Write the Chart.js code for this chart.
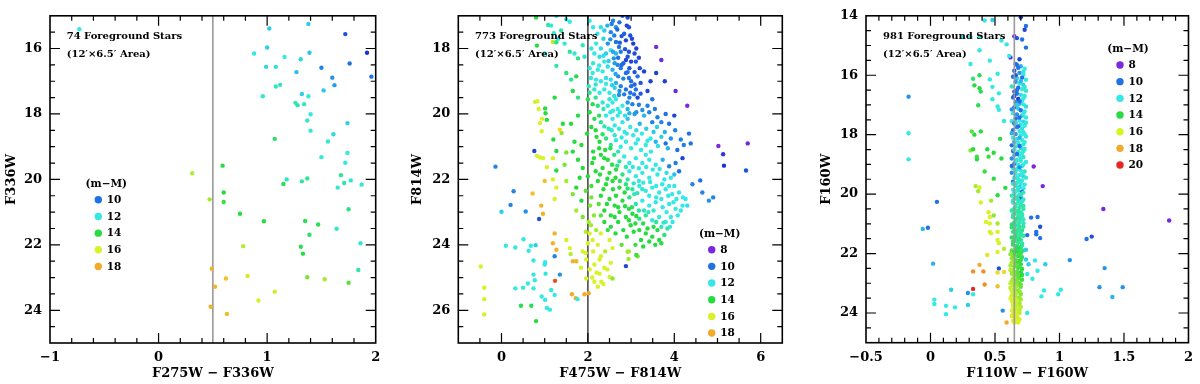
<!DOCTYPE html>
<html><head><meta charset="utf-8">
<script src="https://cdn.jsdelivr.net/npm/chart.js@4.4.1/dist/chart.umd.min.js"></script>
<style>
html,body{margin:0;padding:0;background:#fff;}
#wrap{position:relative;width:1200px;height:384px;overflow:hidden;}
.pane{position:absolute;top:0;width:400px;height:384px;}
canvas{display:block;}
</style></head><body>
<div id="wrap">
<div class="pane" style="left:0px"><canvas id="c1" width="400" height="384"></canvas></div>
<div class="pane" style="left:400px"><canvas id="c2" width="400" height="384"></canvas></div>
<div class="pane" style="left:800px"><canvas id="c3" width="400" height="384"></canvas></div>
</div>
<script>
// ---------------- DATA ----------------
// each star: [colour index, magnitude, distance modulus (m-M)]
const p1Stars = [[-0.73,15.41,12],[1.02,15.39,11.5],[1.38,15.25,11.5],[1.72,15.56,9.5],[1.92,16.13,9],[1.96,16.86,10],[0.88,16.15,12],[1.00,15.97,11.5],[1.39,16.13,11.3],[1.16,16.26,12],[1.31,16.33,11.7],[0.99,16.56,11.7],[1.08,16.56,11.8],[1.50,16.59,10.3],[1.76,16.46,10],[1.27,16.72,11.2],[1.60,16.89,10.5],[1.62,17.12,10.7],[1.08,17.16,12.5],[1.12,17.11,12.5],[1.52,17.28,11.3],[0.96,17.46,12.2],[1.32,17.39,11.5],[1.38,17.46,12],[1.26,17.66,12.5],[1.28,17.73,12.8],[1.34,17.70,12.3],[1.40,18.01,12],[1.37,18.20,12.3],[1.74,18.28,11.5],[1.40,18.51,12.2],[1.61,18.62,11.7],[1.07,18.76,13.5],[1.56,18.84,12.2],[1.74,19.19,12],[1.50,19.32,12],[1.72,19.49,12],[0.59,19.58,14],[0.31,19.81,15.5],[1.68,19.87,13],[1.18,20.00,12.5],[1.37,19.97,13],[1.15,20.14,13.7],[1.32,20.06,12.7],[1.71,20.11,12.7],[1.77,20.03,12.3],[1.87,20.16,12.2],[1.65,20.25,12.2],[0.47,20.61,15.3],[0.60,20.40,14],[0.60,20.69,14.2],[0.75,21.05,14],[0.97,21.28,14],[1.35,21.27,13.8],[1.75,20.91,13.3],[1.47,21.38,13.7],[1.39,21.69,13.5],[1.64,21.51,12.3],[0.78,22.04,15.5],[1.31,22.06,13.7],[1.33,22.27,14],[1.86,21.95,12.2],[0.49,22.73,17.8],[0.62,23.03,17.5],[0.82,22.95,16.5],[1.37,22.99,14.8],[1.53,23.05,15.3],[1.75,23.16,14.5],[1.84,22.77,12.7],[0.52,23.28,17.8],[1.07,23.43,15.8],[0.92,23.70,16],[0.48,23.89,17.8],[0.63,24.11,17.6]];

const p2Upper = [[2.04,17.15,12],[2.30,17.35,11.8],[2.38,17.45,11.5],[2.53,17.5,10.3],[2.65,17.35,10.5],[2.73,17.2,10],[2.80,17.0,10],[2.92,17.05,9.5],[2.90,17.3,9.3],[2.61,17.6,10.2],[2.65,17.8,10],[2.46,17.85,10.5],[2.30,18.0,11.8],[2.19,17.85,12],[2.15,18.15,12],[2.27,18.25,11.8],[2.42,18.15,11.5],[2.53,18.05,11.8],[2.65,18.15,11],[2.76,18.1,10.2],[2.88,18.35,9.3],[3.0,18.4,9.3],[3.11,18.4,9.6],[2.88,17.75,9.3],[3.05,17.85,9.2],[3.12,18.0,9.2],[3.58,17.95,8],[3.70,18.35,8.2],[3.30,18.7,9.2],[3.58,18.75,9.2],[3.15,18.85,10],[3.0,19.0,10],[2.88,18.75,10],[2.76,18.6,10.2],[2.69,18.5,10.3],[2.57,18.65,11],[2.46,18.55,11.8],[2.34,18.7,12],[2.23,18.65,12],[2.11,18.75,12],[2.04,18.6,12.2],[2.07,18.9,12.2],[2.19,18.95,12],[2.30,19.0,12],[2.42,18.9,11.8],[2.53,18.95,11.8],[2.65,19.05,11],[2.76,19.15,10.3],[2.88,19.25,10],[3.0,19.15,10],[3.11,19.25,10],[3.07,19.4,10],[2.96,19.5,10.2],[2.84,19.4,10.2],[2.73,19.3,10.5],[2.61,19.45,11.8],[2.50,19.35,12],[2.38,19.25,12],[2.27,19.35,12],[2.15,19.25,12.2],[2.04,19.35,13],[2.00,19.55,13.8],[2.11,19.7,13.8],[2.23,19.75,13.2],[2.34,19.65,12.3],[2.46,19.75,12],[2.57,19.65,12],[2.69,19.85,12],[2.80,19.75,12],[2.92,19.85,11],[3.03,19.7,10.2],[3.15,19.5,9.3],[3.38,19.3,9.3],[3.45,19.0,9.2],[3.78,19.0,9.2],[4.03,19.3,8.2],[4.30,19.75,8],[3.49,19.55,10],[3.38,19.75,10.2],[3.30,20.05,11],[3.49,20.25,10.3],[3.61,20.1,10.2],[3.80,20.0,10],[4.0,20.05,9.3],[4.34,20.6,10],[2.42,20.05,12],[2.57,20.15,12],[2.69,20.05,12],[2.80,20.25,12],[2.92,20.15,11.2],[2.30,20.25,13],[2.15,20.15,13.8],[2.04,19.95,14],[1.77,19.5,13.2],[1.65,19.3,14],[1.73,18.85,14],[1.61,18.95,13],[1.50,18.75,13.2],[1.77,18.3,13.2],[1.69,18.15,12.2],[1.58,18.1,13],[1.46,17.85,12.2],[1.31,17.7,12],[1.38,17.45,12.8],[1.15,17.3,12],[1.19,17.8,15.5],[1.00,18.15,12],[1.23,19.5,14],[1.42,20.3,14],[1.61,20.3,14],[1.77,20.05,14],[0.86,19.85,16],[0.94,20.15,16],[2.58,17.15,10.3],[2.45,17.3,11],[2.84,17.55,9.8],[2.98,17.6,9.5],[2.36,17.7,11.6],[2.72,17.95,10],[2.95,18.1,9.5],[2.60,18.3,10.5],[2.82,18.45,9.8],[2.38,18.4,12],[2.12,18.45,12.2],[2.96,18.6,9.6],[3.20,18.6,9.4],[2.70,18.85,10.4],[2.95,18.9,10],[3.22,19.05,9.6],[2.62,19.2,11.5],[2.92,19.65,10.6],[2.65,19.55,12],[2.50,19.55,12.2],[2.36,19.85,12.5],[2.58,19.9,12],[2.18,19.5,13],[3.12,19.95,10.5],[3.20,20.3,11],[2.98,20.4,12],[2.62,20.35,12],[2.48,20.45,12.5],[1.88,17.9,12.5],[1.92,18.25,12.3],[2.08,18.0,12]];

const p2Lower = [[2.27,20.85,14],[2.42,20.75,13.2],[2.53,20.95,12.8],[2.65,20.8,12],[2.76,21.0,12],[2.88,20.85,12],[3.0,21.05,12],[3.11,20.9,12],[3.23,21.1,12],[3.34,20.95,12],[3.46,21.15,12],[3.57,20.85,11],[3.80,20.9,10],[4.07,21.1,10],[4.19,21.35,9.3],[4.38,20.9,10],[2.30,21.25,14],[2.46,21.4,14],[2.61,21.25,13.2],[2.73,21.45,12.8],[2.84,21.3,12],[2.96,21.5,12],[3.11,21.35,12],[3.26,21.5,12],[3.42,21.4,12],[3.57,21.55,12],[3.73,21.4,11],[3.88,21.6,10.3],[4.03,21.5,10.2],[4.11,21.75,10],[2.34,21.65,14],[2.50,21.8,14],[2.65,21.7,14],[2.80,21.85,13.2],[2.96,21.75,12],[3.11,21.9,12],[3.26,21.8,12],[3.42,21.95,12],[3.61,21.85,12],[3.77,22.0,12],[3.92,21.95,12],[2.23,22.05,14],[2.42,22.15,14],[2.57,22.05,14],[2.73,22.25,14],[2.88,22.15,13.2],[3.03,22.3,12.8],[3.19,22.2,12],[3.34,22.35,12],[3.49,22.25,12],[3.65,22.4,12],[3.80,22.3,12],[3.95,22.45,12],[4.11,22.4,12],[4.26,22.6,12],[4.42,22.15,10.3],[4.65,22.4,10.3],[4.80,22.65,10.5],[2.30,22.5,14],[2.50,22.6,14],[2.65,22.5,14],[2.80,22.65,14],[2.96,22.55,13.2],[3.11,22.75,12.8],[3.26,22.65,12],[3.42,22.8,12],[3.57,22.7,12],[3.73,22.85,12],[3.88,22.75,12],[4.03,22.9,12],[4.19,22.8,12],[2.38,22.95,14],[2.53,23.1,14],[2.73,23.0,14],[2.88,23.15,14],[3.03,23.05,14],[3.19,23.2,13.2],[3.34,23.1,12.8],[3.49,23.25,12],[3.65,23.15,12],[3.80,23.3,12],[3.92,23.15,12],[2.99,23.4,14],[3.19,23.55,14],[3.34,23.65,14],[3.49,23.75,14],[3.65,23.85,14],[3.77,23.7,13.3],[3.84,23.5,12.8],[3.61,23.55,14],[3.42,23.9,14],[3.23,23.85,14],[2.53,23.45,14],[2.38,23.3,14],[2.30,23.65,16],[2.19,23.55,15.3],[2.07,23.4,15.3],[2.04,23.65,16],[2.11,23.85,16],[2.23,24.0,16],[2.57,24.1,16],[2.50,23.85,16],[2.95,24.2,15.3],[3.15,24.35,14.8],[2.88,24.65,9.3],[1.88,23.15,14.8],[1.73,22.95,15.3],[1.85,22.65,14],[1.65,22.45,14.8],[1.73,22.25,14],[1.81,21.95,14],[1.88,21.65,14],[1.77,21.4,14],[1.65,21.15,14],[1.85,20.95,14],[1.69,20.85,14],[1.46,21.55,14.8],[1.50,22.05,15.3],[1.27,22.25,16],[1.23,22.6,16],[1.19,21.35,16],[0.96,21.35,16],[1.19,22.0,16],[1.00,22.05,17.5],[0.92,22.8,17.8],[0.96,23.05,17.8],[1.23,23.65,17.8],[1.19,23.95,17.8],[1.27,24.15,17.8],[1.50,23.85,16],[1.58,24.1,16],[1.65,24.5,17.8],[1.73,24.5,17.8],[1.88,24.2,16],[1.96,24.45,16],[2.04,24.75,16],[2.15,24.6,16],[2.27,24.45,16],[2.38,24.7,16],[2.53,24.55,16],[1.23,24.35,10.3],[1.00,24.6,12],[2.52,21.05,13.8],[2.40,21.1,14],[2.70,21.15,12.5],[3.34,21.25,12],[3.50,21.7,12],[3.18,22.05,12],[2.64,21.95,14],[3.07,22.45,12.5],[2.85,22.4,14],[3.58,22.55,12],[3.86,22.5,12],[4.00,22.2,12],[4.15,22.95,12],[3.30,22.95,12.5],[2.62,22.8,14],[2.95,22.9,14],[3.70,23.45,12.5],[3.10,23.35,14],[2.70,23.3,14],[2.82,23.55,14],[2.14,23.1,15],[2.05,22.8,14.8],[1.95,22.35,14.5],[2.00,21.9,14],[2.10,21.5,14],[2.12,21.15,14],[1.98,20.6,14],[2.18,20.5,14],[3.70,20.7,11.5],[3.92,20.75,10.5],[4.15,20.78,10.2],[3.45,20.75,12],[3.25,20.6,12],[3.05,20.65,12],[2.85,20.55,12],[3.60,20.4,11.5]];

const p2Core = [[2.55,17.25,10.2],[2.68,17.42,9.8],[2.78,17.62,9.6],[2.95,17.35,9.4],[3.02,17.7,9.3],[2.52,17.72,10.5],[2.74,17.82,9.8],[2.86,18.02,9.6],[3.08,18.15,9.4],[2.58,18.1,10.8],[2.70,18.28,10],[2.92,18.25,9.5],[3.18,18.28,9.3],[2.48,18.38,11.5],[2.62,18.45,10.6],[2.78,18.5,9.9],[2.92,18.72,10],[3.08,18.72,9.5],[2.64,18.78,10.8],[2.82,18.92,10.2],[3.08,19.1,9.8],[2.72,19.42,10.5],[2.98,19.35,10],[3.22,19.38,9.6],[2.56,19.12,11.5],[2.42,19.08,12],[2.18,19.1,12.3],[2.02,19.15,12.5],[2.26,18.52,12],[2.36,18.22,11.8],[2.22,17.55,12],[2.12,17.35,12],[2.52,19.95,12],[2.74,19.95,12],[2.86,20.05,11.8],[2.96,19.98,11],[3.08,20.0,10.6],[3.18,19.72,10.2],[3.26,19.88,10.5],[3.42,19.95,10.3],[3.55,19.85,10.2],[3.70,20.25,10.3],[3.88,20.3,10],[2.38,20.38,12.6],[2.55,20.5,12.2],[2.72,20.45,12],[2.90,20.6,12],[3.12,20.5,11.8],[3.35,20.45,11.5],[3.52,20.55,11.4],[3.78,20.55,11],[4.02,20.5,10.3],[2.34,20.62,13.5],[2.62,20.65,12.3],[2.78,20.72,12],[3.16,20.78,12],[3.38,20.82,12],[3.62,20.98,11.8],[3.85,21.05,11],[4.22,20.95,10.2],[2.20,20.7,14],[2.08,20.4,14],[2.26,20.05,13.6],[2.26,21.05,14],[2.38,21.35,14],[2.56,21.55,13.8],[2.68,21.58,13.2],[2.88,21.62,12.6],[3.04,21.62,12.2],[3.18,21.66,12],[3.35,21.62,12],[3.66,21.68,12],[3.82,21.8,11.8],[4.00,21.85,11.2],[2.28,21.85,14],[2.45,21.98,14],[2.74,22.05,13.6],[2.92,22.0,12.8],[3.06,22.12,12.4],[3.28,22.1,12],[3.44,22.08,12],[3.58,22.2,12],[3.72,22.15,12],[3.88,22.2,12],[4.05,22.6,12],[2.36,22.3,14],[2.58,22.3,14],[2.92,22.28,13.5],[3.14,22.42,12.6],[3.26,22.3,12.2],[3.42,22.5,12],[3.70,22.6,12],[3.98,22.7,12],[4.20,22.55,12],[4.30,22.8,11.8],[2.14,21.35,14],[2.18,21.75,14],[2.08,22.2,14.3],[2.44,22.75,14],[2.70,22.85,14],[2.86,22.82,14],[3.02,22.85,13.6],[3.18,22.95,13],[3.40,23.0,12.5],[3.52,22.95,12.2],[3.82,23.0,12],[3.96,23.3,12],[4.08,23.1,12],[2.30,23.1,14.5],[2.62,23.15,14],[2.95,23.25,14],[3.12,23.12,14],[3.28,23.35,13.8],[3.58,23.3,13],[3.75,23.32,12.4],[3.90,23.45,12.2],[2.46,23.55,14.2],[2.64,23.65,14],[2.90,23.75,14],[3.06,23.6,14],[3.38,23.5,14],[3.52,23.45,13.8],[3.70,23.95,14],[3.56,24.0,14],[3.28,24.05,14],[3.10,24.0,14.2],[2.78,24.0,14.5],[2.40,24.2,15.5],[2.30,24.35,16],[2.12,24.2,16],[2.00,23.95,16],[1.95,24.25,16],[1.84,24.7,16],[2.20,24.85,16],[2.45,24.75,16],[2.10,25.0,16],[2.36,25.2,16],[2.02,23.3,15.3],[1.95,23.6,15.5],[2.08,22.55,14.8],[2.25,22.75,14.5]];

const p2Outer = [[0.80,17.05,13.8],[1.27,17.0,12.2],[1.08,17.28,12.8],[1.21,17.53,12.2],[1.27,17.81,13.3],[0.82,17.91,14],[1.50,17.11,12],[1.58,17.18,12],[1.27,18.53,12.8],[0.78,19.63,15.8],[0.83,19.61,16],[1.01,19.83,14],[1.02,19.98,14],[0.89,20.28,16],[0.93,20.53,16],[1.05,20.18,14],[1.39,20.58,15],[1.35,20.48,17],[1.20,20.78,14],[0.76,21.13,9.3],[0.82,21.28,16],[0.89,21.33,16],[1.05,21.63,16],[-0.14,21.61,10.3],[1.27,21.13,14],[1.50,21.18,14.8],[1.27,21.73,14],[5.02,20.98,8],[5.70,20.90,7.8],[5.13,21.23,8.7],[5.15,21.58,9],[5.66,21.73,9.5],[4.60,22.03,10],[4.90,22.55,10.3],[0.28,22.36,10.3],[0.72,22.43,17.5],[0.21,22.78,10.3],[0.0,22.99,11.5],[0.56,22.98,10.5],[0.87,23.21,9.5],[0.10,24.03,12],[0.32,24.08,12],[0.51,23.83,12],[0.68,24.03,12],[0.79,24.01,11.5],[0.63,24.18,12],[-0.48,24.66,16],[0.74,24.48,12],[1.01,24.53,12],[1.35,24.91,10.5],[0.74,24.91,12],[0.77,25.08,12],[1.02,24.88,12.2],[-0.40,25.31,16],[-0.40,25.66,16],[-0.40,26.13,16],[0.32,25.33,12],[0.50,25.31,12],[0.61,25.18,12],[0.74,25.33,12],[0.93,25.58,12],[1.01,25.68,12],[1.05,25.93,12],[1.12,25.98,12],[1.15,25.38,12],[1.23,25.53,12],[1.24,25.10,19.5],[0.45,25.86,13.8],[0.69,25.86,13.8],[0.80,26.33,14],[1.63,25.51,18],[1.72,25.63,18],[1.76,25.66,12],[1.92,25.51,18],[2.02,25.48,18],[2.15,25.13,16],[2.23,25.28,16],[2.31,25.13,16],[1.96,25.03,16],[2.50,24.98,16],[2.27,24.88,16],[2.57,25.03,15],[2.92,24.21,15.2],[2.94,24.43,15.2],[3.12,24.31,14.2],[1.60,24.28,15.5]];

const p3Top = [[0.70,14.05,9.3],[0.74,14.34,10],[0.73,14.47,9.3],[0.65,14.69,8],[0.67,14.75,9.5],[0.71,14.80,10],[0.74,15.07,10],[0.69,15.46,9.3],[0.62,15.40,8.2],[0.67,15.65,10]];

const p3Band = [[0.66,15.62,10],[0.70,15.70,11],[0.73,15.78,12],[0.65,15.85,9.5],[0.69,15.92,10.5],[0.72,15.98,12],[0.64,16.05,10],[0.67,16.10,11.5],[0.71,16.08,10],[0.74,16.15,12],[0.66,16.22,10.5],[0.69,16.28,12],[0.72,16.33,11.5],[0.63,16.38,12.5],[0.68,16.42,10],[0.71,16.47,12],[0.74,16.52,12.2],[0.65,16.55,9.5],[0.67,16.62,10],[0.70,16.66,11.8],[0.73,16.70,12],[0.64,16.75,10],[0.68,16.80,9],[0.71,16.85,12],[0.66,16.90,10.5],[0.69,16.95,11],[0.72,16.98,12],[0.74,17.05,11.8],[0.65,17.08,10],[0.68,17.12,11.5],[0.70,17.18,10],[0.73,17.22,12],[0.64,17.28,12],[0.67,17.32,10.5],[0.71,17.36,11.5],[0.74,17.42,12],[0.66,17.46,10],[0.69,17.52,12],[0.72,17.56,11.7],[0.63,17.55,12],[0.65,17.62,9.5],[0.70,17.66,12],[0.73,17.70,12],[0.67,17.75,10.5],[0.71,17.80,11.8],[0.64,17.85,10],[0.69,17.88,12],[0.72,17.92,12.2],[0.66,17.98,10.5],[0.70,18.02,12],[0.74,18.06,12],[0.64,18.10,12],[0.67,18.15,11.5],[0.71,18.18,12],[0.65,18.24,10.5],[0.68,18.28,12],[0.72,18.32,12.3],[0.63,18.36,10],[0.66,18.40,12],[0.70,18.45,11.5],[0.73,18.48,12],[0.64,18.55,10],[0.68,18.58,12.2],[0.71,18.62,12],[0.65,18.68,11],[0.69,18.72,12],[0.72,18.75,12.5],[0.63,18.80,10.5],[0.67,18.85,12],[0.70,18.88,12.2],[0.74,18.92,12],[0.65,18.98,10],[0.68,19.02,12],[0.71,19.05,11.8],[0.64,19.12,12.3],[0.67,19.16,12],[0.70,19.20,12],[0.73,19.24,12.5],[0.63,19.28,10.5],[0.66,19.32,12],[0.69,19.36,12.2],[0.72,19.40,11.7],[0.65,19.45,12.5],[0.68,19.50,12],[0.71,19.54,12],[0.64,19.58,10],[0.67,19.62,12.3],[0.70,19.66,12],[0.66,19.72,12.5],[0.69,19.76,11.5],[0.72,19.80,12],[0.64,19.85,12],[0.68,19.88,12.5],[0.71,19.92,10],[0.65,19.96,12.3],[0.69,20.02,12],[0.63,20.05,12.5],[0.67,20.08,12],[0.70,20.12,10],[0.65,20.16,12.5],[0.68,20.20,12.8],[0.71,20.24,12.3],[0.64,20.28,12],[0.67,20.32,12.5],[0.70,20.36,13],[0.66,20.42,12.3],[0.69,20.46,12.8],[0.72,20.50,12.5],[0.63,20.55,12.8],[0.67,20.58,12.5],[0.70,20.62,13],[0.65,20.66,13.2],[0.68,20.70,12.6],[0.71,20.74,12.4],[0.64,20.78,12.8],[0.67,20.82,13.3],[0.70,20.86,12.7],[0.66,20.90,13],[0.69,20.94,12.6],[0.72,20.98,12.5],[0.63,21.02,13.5],[0.66,21.06,12.8],[0.69,21.10,13.2],[0.65,21.15,13],[0.68,21.18,12.7],[0.71,21.22,13.4],[0.64,21.27,13.2],[0.67,21.30,12.6],[0.70,21.34,13],[0.66,21.38,13.5],[0.69,21.42,12.8],[0.63,21.46,13.6],[0.67,21.50,13.2],[0.70,21.54,12.7],[0.65,21.58,13.4],[0.68,21.62,13],[0.71,21.66,12.8],[0.64,21.70,13.8],[0.67,21.74,13.3],[0.70,21.78,13.5],[0.66,21.83,13.8],[0.69,21.86,13.2],[0.63,21.90,14.5],[0.67,21.94,14],[0.70,21.98,13.6],[0.62,22.02,15],[0.65,22.05,14.3],[0.68,22.08,14],[0.71,22.12,13.6],[0.63,22.16,15.2],[0.66,22.20,14.5],[0.69,22.24,14],[0.64,22.28,15],[0.67,22.32,14.2],[0.70,22.36,13.8],[0.62,22.40,15.3],[0.65,22.44,14.6],[0.68,22.48,14.2],[0.71,22.52,14],[0.64,22.56,15],[0.67,22.60,14.4],[0.70,22.64,14],[0.63,22.68,15.2],[0.66,22.72,14.7],[0.69,22.76,14.3],[0.65,22.80,15],[0.68,22.84,14.5],[0.71,22.88,14.2],[0.63,22.92,15.4],[0.66,22.96,14.8],[0.69,23.00,14.5],[0.64,23.05,15.5],[0.67,23.08,15],[0.70,23.12,14.6],[0.62,23.16,15.6],[0.65,23.20,15.2],[0.68,23.24,14.8],[0.64,23.28,15.7],[0.67,23.32,15.3],[0.70,23.36,14.8],[0.63,23.40,15.8],[0.66,23.44,15.4],[0.69,23.48,15],[0.65,23.52,15.8],[0.68,23.56,15.4],[0.63,23.60,16],[0.66,23.64,15.6],[0.69,23.68,15.2],[0.64,23.72,16],[0.67,23.76,15.7],[0.70,23.80,15.5],[0.65,23.84,16],[0.68,23.88,15.8],[0.63,23.92,16.2],[0.66,23.96,15.9],[0.69,24.00,15.6],[0.64,24.04,16.2],[0.67,24.08,16],[0.65,24.14,16.2],[0.68,24.18,15.9],[0.66,24.22,16.3],[0.64,24.26,16],[0.67,24.30,16.2]];

const p3Band2 = [[0.68,15.75,10],[0.72,15.88,12],[0.66,16.0,9.5],[0.70,16.2,11],[0.73,16.4,12.3],[0.67,16.5,10],[0.65,16.7,9.5],[0.72,16.78,12],[0.69,16.88,10],[0.67,17.0,11.5],[0.63,17.15,10.5],[0.72,17.3,12],[0.69,17.42,10],[0.66,17.6,11.5],[0.74,17.6,12.2],[0.68,17.72,10],[0.63,17.95,11],[0.73,17.98,12],[0.69,18.1,11],[0.66,18.2,12],[0.73,18.25,12],[0.69,18.38,10],[0.65,18.5,12],[0.72,18.55,12.3],[0.67,18.65,10],[0.70,18.78,12],[0.66,18.9,12.2],[0.72,19.0,12],[0.63,19.05,10],[0.69,19.1,10.5],[0.66,19.22,12.3],[0.71,19.3,12],[0.74,19.45,12.2],[0.67,19.45,12],[0.64,19.65,12.4],[0.70,19.55,12.3],[0.73,19.68,12],[0.68,19.8,12.2],[0.66,19.9,12],[0.72,19.95,12.4],[0.70,20.02,12.6],[0.66,20.12,12.8],[0.72,20.18,12.2],[0.64,20.22,12.6],[0.69,20.3,12.4],[0.72,20.4,12.8],[0.65,20.48,12.8],[0.68,20.56,13],[0.71,20.68,12.6],[0.64,20.7,13],[0.69,20.8,12.8],[0.72,20.85,12.4],[0.65,20.95,13.2],[0.68,21.02,12.8],[0.72,21.1,12.7],[0.63,21.12,13.4],[0.70,21.25,13],[0.66,21.25,13.3],[0.72,21.4,12.8],[0.65,21.45,13.5],[0.69,21.52,13.2],[0.64,21.6,13.6],[0.71,21.72,13],[0.68,21.8,13.8],[0.65,21.95,14],[0.72,21.9,13.4],[0.69,22.02,14.3],[0.64,22.12,14.8],[0.70,22.22,14.2],[0.63,22.3,15.3],[0.66,22.38,14.6],[0.69,22.44,14.3],[0.62,22.55,15.5],[0.65,22.62,15],[0.68,22.7,14.5],[0.71,22.72,14],[0.64,22.85,15.3],[0.67,22.9,14.8],[0.62,23.0,15.6],[0.70,23.05,14.6],[0.66,23.12,15.3],[0.63,23.25,15.8],[0.69,23.28,15],[0.66,23.36,15.6],[0.62,23.5,16],[0.70,23.55,15.3],[0.67,23.6,15.8],[0.64,23.8,16],[0.69,23.9,15.6],[0.66,24.05,16.2],[0.63,24.1,16.3],[0.69,24.22,16],[0.67,24.25,16.2],[0.65,24.32,16.4],[0.68,24.32,16]];

const p3Field = [[0.42,14.16,12],[0.48,14.14,11.5],[0.25,14.71,12],[0.31,14.71,12],[0.38,14.71,12.2],[0.55,14.83,12],[0.59,14.96,12],[0.38,15.16,12],[0.46,15.51,12],[0.31,15.62,12],[0.61,15.35,12],[0.52,15.95,12],[0.38,16.0,13.8],[0.46,16.14,12],[0.33,16.12,13.3],[0.34,16.34,14],[0.38,16.44,14],[0.39,16.55,13.8],[0.48,16.39,12],[0.53,16.61,12],[0.48,16.81,12],[0.37,17.01,13.8],[0.52,17.05,12],[0.53,17.16,12],[0.57,17.54,12],[-0.17,16.72,10.5],[-0.17,17.95,12],[-0.17,18.83,12],[0.32,17.89,14.5],[0.34,18.0,14],[0.39,17.89,14],[0.31,18.53,15],[0.33,18.49,14],[0.36,18.74,14.3],[0.36,18.83,14],[0.44,18.49,14],[0.45,18.74,14.2],[0.49,18.61,14],[0.55,18.80,14],[0.54,18.14,14],[0.49,19.48,14],[0.42,19.24,14.2],[0.35,19.73,15.3],[0.38,19.78,16],[0.37,19.90,15.3],[0.52,20.04,14],[0.58,19.79,14],[0.39,20.28,16],[0.47,20.22,15.3],[0.45,20.61,16],[0.46,20.77,16],[0.43,20.94,16],[0.46,20.99,16],[0.49,20.72,15],[0.52,20.99,15.3],[0.46,21.27,16],[0.47,21.32,16],[0.52,21.27,16],[0.52,21.54,16],[0.53,21.65,16],[0.52,21.95,16],[0.44,22.05,16.5],[0.57,21.84,15.5],[0.05,20.26,10],[-0.02,21.13,10],[-0.06,21.17,11],[0.02,22.34,11],[0.38,22.38,18],[0.33,22.60,18.5],[0.41,22.60,18.5],[0.42,23.04,18.5],[0.33,23.19,20],[0.53,22.50,9.5],[0.52,22.64,17],[0.57,22.62,17],[0.52,23.10,17.5],[0.59,24.32,18],[0.16,23.22,11.5],[0.29,23.33,10.5],[0.33,23.37,12],[0.03,23.55,12],[0.03,23.70,12],[0.12,23.76,12],[0.19,23.81,12],[0.12,24.04,12],[0.29,23.73,11.5],[0.56,23.92,10.5],[0.80,19.07,8],[0.87,19.73,8],[0.83,20.77,10],[0.78,20.79,10],[0.85,21.10,9.5],[0.82,21.27,10],[0.82,21.35,10],[0.85,21.48,10],[0.75,21.38,10],[0.74,21.87,11.5],[0.74,22.20,11.5],[0.81,22.23,12],[0.76,22.36,11.5],[0.89,22.36,11.5],[0.83,22.58,12],[0.79,22.85,12],[0.75,22.69,12],[0.88,23.24,12],[0.86,23.44,12],[0.75,24.0,12],[1.08,22.22,10.5],[1.01,23.22,12],[0.99,23.37,12],[1.21,21.51,10],[1.25,21.43,9.5],[1.34,20.50,8],[1.35,22.49,10.5],[1.31,23.13,10.5],[1.41,23.46,11],[1.49,23.13,10.5],[1.85,20.89,8]];

// tick labels
const p1XTicks = [-1, 0, 1, 2];
const p1YTicks = [16, 18, 20, 22, 24];
const p2XTicks = [0, 2, 4, 6];
const p2YTicks = [18, 20, 22, 24, 26];
const p3XTicks = [-0.5, 0, 0.5, 1, 1.5, 2];
const p3YTicks = [14, 16, 18, 20, 22, 24];
// legend entries (m-M)
const p1Legend = [10, 12, 14, 16, 18];
const p2Legend = [8, 10, 12, 14, 16, 18];
const p3Legend = [8, 10, 12, 14, 16, 18, 20];
// captions
const p1Caption = ['74 Foreground Stars', '(12′×6.5′ Area)'];
const p2Caption = ['773 Foreground Stars', '(12′×6.5′ Area)'];
const p3Caption = ['981 Foreground Stars', '(12′×6.5′ Area)'];
// reference colour lines
const p1RefX = 0.5, p2RefX = 2, p3RefX = 0.65;

// ---------------- STYLE ----------------
const CMAP = [[7,[90,26,200]],[8,[122,40,224]],[9,[30,52,208]],[10,[32,112,230]],[11,[40,180,234]],[12,[52,232,228]],[13,[46,228,150]],[14,[40,220,64]],[15,[142,232,48]],[16,[216,242,40]],[17,[242,216,40]],[18,[242,170,40]],[19,[240,112,32]],[20,[232,40,32]]];
function dmColor(d){
  if (d <= CMAP[0][0]) return 'rgb('+CMAP[0][1].join(',')+')';
  for (let i=0;i<CMAP.length-1;i++){
    const [a,ca]=CMAP[i],[b,cb]=CMAP[i+1];
    if (d<=b){const t=(d-a)/(b-a);return 'rgb('+ca.map((v,k)=>Math.round(v+(cb[k]-v)*t)).join(',')+')';}
  }
  return 'rgb('+CMAP[CMAP.length-1][1].join(',')+')';
}
const FAM = '"DejaVu Serif", "Liberation Serif", serif';
function fmt(v){ return v<0 ? '\u2212'+Math.abs(v) : String(v); }

function makePanel(id, c){
  const stars = c.stars.map(p=>({x:p[0],y:p[1],dm:p[2]}));
  const deco = {
    id:'deco'+id,
    beforeDatasetsDraw(chart){
      const {ctx, chartArea:a, scales:{x}} = chart;
      if (!c.refOnTop) drawRef(ctx,a,x);
    },
    afterDatasetsDraw(chart){
      const {ctx, chartArea:a, scales:{x,y}} = chart;
      if (c.refOnTop) drawRef(ctx,a,x);
      ctx.save();
      ctx.strokeStyle='#000'; ctx.lineWidth=1.6;
      ctx.strokeRect(a.left, a.top, a.right-a.left, a.bottom-a.top);
      ctx.lineWidth=1.2;
      ctx.beginPath();
      for (let i=0;;i++){
        const v = +(c.xMin + i*c.xMinor).toFixed(4);
        if (v > c.xMax+1e-9) break;
        const p = x.getPixelForValue(v);
        if (p<=a.left+1 || p>=a.right-1) continue;
        const L = c.xTicks.some(t=>Math.abs(t-v)<1e-6) ? 10 : 5;
        ctx.moveTo(p,a.bottom); ctx.lineTo(p,a.bottom-L);
        ctx.moveTo(p,a.top); ctx.lineTo(p,a.top+L);
      }
      for (let i=0;;i++){
        const v = +(c.yMin + i*c.yMinor).toFixed(4);
        if (v > c.yMax+1e-9) break;
        const p = y.getPixelForValue(v);
        if (p<=a.top+1 || p>=a.bottom-1) continue;
        const L = c.yTicks.some(t=>Math.abs(t-v)<1e-6) ? 10 : 5;
        ctx.moveTo(a.left,p); ctx.lineTo(a.left+L,p);
        ctx.moveTo(a.right,p); ctx.lineTo(a.right-L,p);
      }
      ctx.stroke();
      ctx.fillStyle='#000';
      ctx.font='bold 10px '+FAM;
      ctx.textAlign='left'; ctx.textBaseline='middle';
      ctx.fillText(c.caption[0], a.left+c.capX, a.top+20.7);
      ctx.fillText(c.caption[1], a.left+c.capX, a.top+38.7);
      ctx.font='bold 10.5px '+FAM;
      ctx.textAlign='center';
      ctx.fillText('(m\u2212M)', a.left+c.legX+8, a.top+c.legY);
      ctx.textAlign='left';
      c.legend.forEach((d,i)=>{
        const yy = a.top+c.legY+15.5+i*16.67;
        ctx.beginPath(); ctx.fillStyle=dmColor(d);
        ctx.arc(a.left+c.legX, yy, 3.7, 0, Math.PI*2); ctx.fill();
        ctx.fillStyle='#000';
        ctx.fillText(String(d), a.left+c.legX+8.5, yy+0.5);
      });
      ctx.restore();
    }
  };
  function drawRef(ctx,a,x){
    const px = x.getPixelForValue(c.refX);
    ctx.save(); ctx.strokeStyle=c.refColor; ctx.lineWidth=c.refW;
    ctx.beginPath(); ctx.moveTo(px,a.top); ctx.lineTo(px,a.bottom); ctx.stroke(); ctx.restore();
  }
  const tickFont = {family:FAM, size:13, weight:'bold'};
  new Chart(document.getElementById(id), {
    type:'scatter',
    data:{datasets:[{data:stars, pointRadius:2.2, pointHoverRadius:2.2, pointBorderWidth:0,
      pointBackgroundColor: stars.map(s=>dmColor(s.dm))}]},
    options:{
      responsive:false, animation:false, events:[], devicePixelRatio:1,
      layout:{padding:{top:c.padTop, right:c.padRight, left:0, bottom:0}},
      plugins:{legend:{display:false}, tooltip:{enabled:false}},
      scales:{
        x:{type:'linear', min:c.xMin, max:c.xMax,
          afterBuildTicks:s=>{s.ticks=c.xTicks.map(v=>({value:v}));},
          afterFit:s=>{s.height=c.xAxisH;},
          grid:{display:false, drawTicks:false}, border:{display:false},
          ticks:{padding:7, font:tickFont, color:'#000', autoSkip:false, maxRotation:0, callback:v=>fmt(v)},
          title:{display:true, text:c.xTitle, font:tickFont, color:'#000', padding:{top:0,bottom:3}}},
        y:{type:'linear', reverse:true, min:c.yMin, max:c.yMax,
          afterBuildTicks:s=>{s.ticks=c.yTicks.map(v=>({value:v}));},
          afterFit:s=>{s.width=c.yAxisW;},
          grid:{display:false, drawTicks:false}, border:{display:false},
          ticks:{padding:8, font:tickFont, color:'#000', autoSkip:false, callback:v=>fmt(v)},
          title:{display:true, text:c.yTitle, font:tickFont, color:'#000', padding:{top:c.yTitlePad,bottom:0}}}
      }
    },
    plugins:[deco]
  });
}

makePanel('c1', {stars:p1Stars, xMin:-1, xMax:2, yMin:15, yMax:25, xTicks:p1XTicks, yTicks:p1YTicks,
  xMinor:0.2, yMinor:0.5, xTitle:'F275W \u2212 F336W', yTitle:'F336W', padTop:8.3, padRight:24.3,
  yAxisW:50, xAxisH:41, yTitlePad:4, refX:p1RefX, refColor:'#9a9a9a', refW:1.6, refOnTop:false,
  caption:p1Caption, capX:16.7, legend:p1Legend, legX:48.3, legY:168.5});
makePanel('c2', {stars:p2Upper.concat(p2Lower, p2Core, p2Outer), xMin:-1, xMax:6.5, yMin:17, yMax:27, xTicks:p2XTicks, yTicks:p2YTicks,
  xMinor:0.5, yMinor:0.5, xTitle:'F475W \u2212 F814W', yTitle:'F814W', padTop:8.3, padRight:17.7,
  yAxisW:58.3, xAxisH:41, yTitlePad:10, refX:p2RefX, refColor:'#222', refW:1.3, refOnTop:false,
  caption:p2Caption, capX:16.7, legend:p2Legend, legX:253.4, legY:218.4});
makePanel('c3', {stars:p3Top.concat(p3Band, p3Band2, p3Field), xMin:-0.5, xMax:2, yMin:14, yMax:25, xTicks:p3XTicks, yTicks:p3YTicks,
  xMinor:0.1, yMinor:0.5, xTitle:'F110W \u2212 F160W', yTitle:'F160W', padTop:9, padRight:8.3,
  yAxisW:66, xAxisH:41.3, yTitlePad:19, refX:p3RefX, refColor:'#9a9a9a', refW:1.6, refOnTop:true,
  caption:p3Caption, capX:17, legend:p3Legend, legX:254, legY:33.7});
</script>
</body></html>
